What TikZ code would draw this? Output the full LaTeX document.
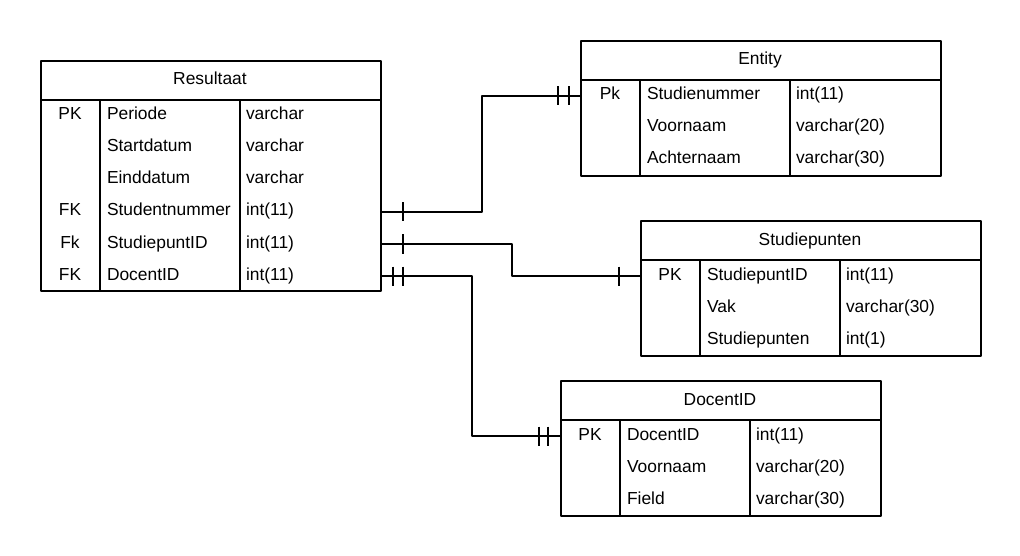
\documentclass[tikz,border=0pt]{standalone}
\usepackage{fontspec}
\setmainfont{Liberation Sans}
\begin{document}
\begin{tikzpicture}[x=1pt,y=-1pt,font=\fontsize{17.4}{21}\selectfont,line width=2pt,line join=round,
    tbl/.style={draw,anchor=north west,inner sep=0pt,minimum height=#1},
    cell/.style={anchor=base west,inner sep=0pt},
    keycell/.style={anchor=base,inner sep=0pt}]
    \useasboundingbox (0,0) rectangle (1020,556);
    % Resultaat
    \node[tbl=230,minimum width=340] (res) at (40,60) {};
    \draw (40,100)--(380,100) (100,100)--(100,290) (240,100)--(240,290);
    \node[keycell] (res-h) at (210,85) {Resultaat};
    \foreach\k/\f/\t [count=\i] in {PK/Periode/varchar,{}/Startdatum/varchar,{}/Einddatum/varchar,FK/Studentnummer/int(11),Fk/StudiepuntID/int(11),FK/DocentID/int(11)}{
        \coordinate (res-r\i) at (40,{116+32*(\i-1)});
        \node[keycell] (res-k\i) at (70,{120+32*(\i-1)}) {\k};
        \node[cell] (res-f\i) at (106,{120+32*(\i-1)}) {\f};
        \node[cell] (res-t\i) at (245,{120+32*(\i-1)}) {\t};
    }
    % Entity
    \node[tbl=135,minimum width=360] (ent) at (580,40) {};
    \draw (580,80)--(940,80) (640,80)--(640,175) (790,80)--(790,175);
    \node[keycell] (ent-h) at (760,65) {Entity};
    \foreach\k/\f/\t [count=\i] in {Pk/Studienummer/int(11),{}/Voornaam/varchar(20),{}/Achternaam/varchar(30)}{
        \coordinate (ent-r\i) at (580,{96+32*(\i-1)});
        \node[keycell] (ent-k\i) at (610,{100+32*(\i-1)}) {\k};
        \node[cell] (ent-f\i) at (646,{100+32*(\i-1)}) {\f};
        \node[cell] (ent-t\i) at (795,{100+32*(\i-1)}) {\t};
    }
    % Studiepunten
    \node[tbl=135,minimum width=340] (stp) at (640,220) {};
    \draw (640,260)--(980,260) (700,260)--(700,355) (840,260)--(840,355);
    \node[keycell] (stp-h) at (810,245) {Studiepunten};
    \foreach\k/\f/\t [count=\i] in {PK/StudiepuntID/int(11),{}/Vak/varchar(30),{}/Studiepunten/int(1)}{
        \coordinate (stp-r\i) at (640,{276+32*(\i-1)});
        \node[keycell] (stp-k\i) at (670,{280+32*(\i-1)}) {\k};
        \node[cell] (stp-f\i) at (706,{280+32*(\i-1)}) {\f};
        \node[cell] (stp-t\i) at (845,{280+32*(\i-1)}) {\t};
    }
    % DocentID
    \node[tbl=135,minimum width=320] (doc) at (560,380) {};
    \draw (560,420)--(880,420) (620,420)--(620,515) (750,420)--(750,515);
    \node[keycell] (doc-h) at (720,405) {DocentID};
    \foreach\k/\f/\t [count=\i] in {PK/DocentID/int(11),{}/Voornaam/varchar(20),{}/Field/varchar(30)}{
        \coordinate (doc-r\i) at (560,{436+32*(\i-1)});
        \node[keycell] (doc-k\i) at (590,{440+32*(\i-1)}) {\k};
        \node[cell] (doc-f\i) at (626,{440+32*(\i-1)}) {\f};
        \node[cell] (doc-t\i) at (755,{440+32*(\i-1)}) {\t};
    }
    % relaties
    \draw (res-r4 -| res.east) -- ++(100,0) |- (ent-r1);
    \draw (res-r5 -| res.east) -- ++(130,0) |- (stp-r1);
    \draw (res-r6 -| res.east) -- ++(90,0) |- (doc-r1);
    \foreach\c/\d in {res-r4/21,res-r5/21,res-r6/11,res-r6/21}{\draw ([xshift=\d]\c -| res.east) ++(0,-9.5) -- ++(0,19);}
    \foreach\c/\d in {ent-r1/11,ent-r1/22,stp-r1/21,doc-r1/12,doc-r1/21}{\draw ([xshift=-\d]\c) ++(0,-9.5) -- ++(0,19);}
\end{tikzpicture}
\end{document}
